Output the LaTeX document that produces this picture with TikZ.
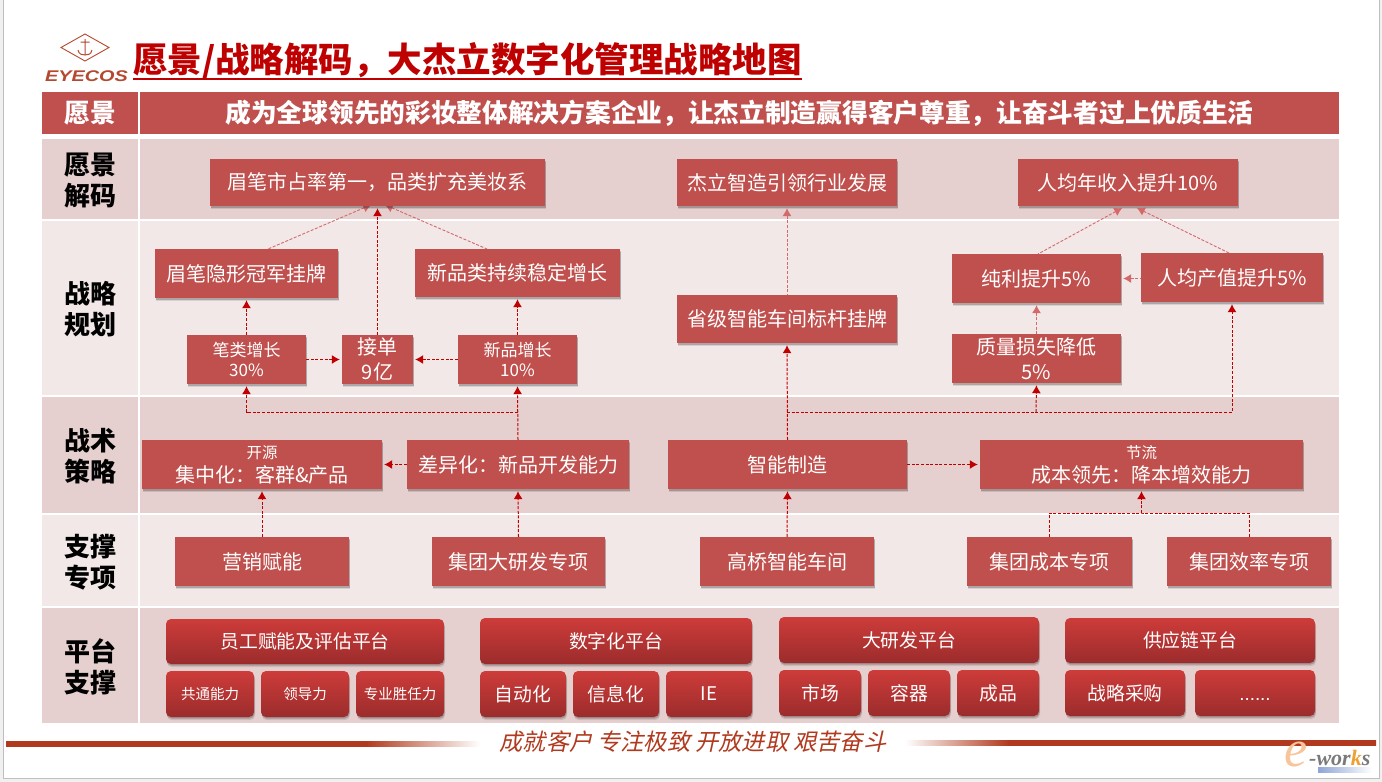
\documentclass[tikz,border=0pt]{standalone}
\usepackage{fontspec}
\setmainfont{Noto Sans CJK SC}
\newfontfamily\slantcjk[FakeSlant=0.22]{Noto Sans CJK SC}
\newfontfamily\latinsans{Liberation Sans}
\newfontfamily\latinserif{Liberation Serif}
\usetikzlibrary{arrows.meta,shadows,calc}
\definecolor{boxred}{HTML}{C0504D}
\definecolor{rowdark}{HTML}{E6CFCF}
\definecolor{rowlight}{HTML}{F2E8E8}
\definecolor{linkred}{HTML}{C00000}
\definecolor{linkpale}{HTML}{D4696A}
\definecolor{titlered}{HTML}{BE0000}
\definecolor{footred}{HTML}{B13A1E}
\definecolor{logobrown}{HTML}{B5492F}
\definecolor{gradtop}{HTML}{CD3C3A}
\definecolor{gradbot}{HTML}{9B2C2C}
\definecolor{eorange}{HTML}{F8C49A}
\definecolor{kaorange}{HTML}{F0A030}
\definecolor{worksgrey}{HTML}{7A7A7A}
\definecolor{barblue}{HTML}{8FA5D5}
\pgfdeclarehorizontalshading{fadeout}{100bp}{color(0bp)=(footred); color(63bp)=(footred); color(75bp)=(white); color(100bp)=(white)}
\pgfdeclarehorizontalshading{fadein}{100bp}{color(0bp)=(white); color(25bp)=(white); color(36bp)=(footred); color(100bp)=(footred)}
\tikzset{
  cellbase/.style={inner sep=0pt,align=center},
  headcell/.style={cellbase,fill=boxred,text=white,font=\fontsize{25.7}{31}\bfseries\selectfont},
  rowd/.style={cellbase,fill=rowdark},
  rowl/.style={cellbase,fill=rowlight},
  lab/.style={cellbase,font=\fontsize{26}{31}\bfseries\selectfont,text=black},
  softshadow/.style={
    drop shadow={shadow xshift=1pt,shadow yshift=-3.2pt,opacity=.10,fill=black},
    drop shadow={shadow xshift=.6pt,shadow yshift=-1.6pt,opacity=.20,fill=black}},
  rbox/.style={cellbase,fill=boxred,text=white,softshadow,font=\fontsize{20}{25}\selectfont},
  rboxs/.style={rbox,font=\fontsize{17}{20}\selectfont},
  plat/.style={cellbase,rounded corners=5pt,top color=gradtop,bottom color=gradbot,text=white,softshadow,font=\fontsize{18.8}{24}\selectfont},
  plats/.style={plat,font=\fontsize{14.5}{18}\selectfont},
  conn/.style={draw=linkred,line width=1pt,dash pattern=on 3pt off 1.6pt,-{Latex[length=8pt,width=9pt]},shorten >=2pt},
  connpale/.style={conn,draw=linkpale,line width=.9pt,{Latex[length=8pt,width=9pt]}-,shorten >=0pt,shorten <=2pt},
  connplain/.style={draw=linkred,line width=1pt,dash pattern=on 3pt off 1.6pt},
}
\newcommand{\bx}[7]{\node[#1,minimum width={(#5-#3)*1pt},minimum height={(#6-#4)*1pt}] (#2) at ({(#3+#5)/2},{(#4+#6)/2}) {#7};}
\begin{document}
\begin{tikzpicture}[x=1pt,y=-1pt]
\useasboundingbox (0,0) rectangle (1382,782);
\fill[black!6] (0,0) rectangle (1382,782);
\fill[white,draw=black!25,line width=1pt] (3.5,-3) rectangle (1379,778);

% logo
\draw[logobrown,line width=.9pt] (61,47.5)--(85,34)--(109,47.5)--(85,61)--cycle;
\draw[logobrown,line width=1pt] (85,39)--(85,55) (80.5,42)--(89.5,42) (78,50) .. controls (79,54.5) and (82,55) .. (85,55) .. controls (88,55) and (91,54.5) .. (92,50);
\node[inner sep=0pt,text=logobrown,xscale=1.28] (logotext) at (86.5,76) {\fontsize{15.5}{16}\latinsans\bfseries\itshape EYECOS};

% title
\node[anchor=west,inner sep=0pt,text=titlered,font=\fontsize{34.5}{40}\bfseries\selectfont] (title) at (133,61) {愿景/战略解码，大杰立数字化管理战略地图};
\draw[titlered,line width=2pt] (title.west |- 0,79) -- (title.east |- 0,79);

% rows
\bx{headcell}{h0}{42}{92}{138}{134}{愿景}
\bx{headcell}{h1}{140}{92}{1339}{134}{成为全球领先的彩妆整体解决方案企业，让杰立制造赢得客户尊重，让奋斗者过上优质生活}
\bx{rowd}{c1}{42}{139}{138}{219}{}
\bx{rowd}{r1}{140}{139}{1339}{219}{}
\bx{rowl}{c2}{42}{221}{138}{395}{}
\bx{rowl}{r2}{140}{221}{1339}{395}{}
\bx{rowd}{c3}{42}{397}{138}{513}{}
\bx{rowd}{r3}{140}{397}{1339}{513}{}
\bx{rowl}{c4}{42}{515}{138}{606}{}
\bx{rowl}{r4}{140}{515}{1339}{606}{}
\bx{rowd}{c5}{42}{608}{138}{723}{}
\bx{rowd}{r5}{140}{608}{1339}{723}{}
\node[lab] (l1) at ($(c1)+(0,1.5)$) {愿景\\解码};
\node[lab] (l2) at ($(c2)+(0,1)$) {战略\\规划};
\node[lab] (l3) at ($(c3)+(0,1)$) {战术\\策略};
\node[lab] (l4) at ($(c4)+(0,1.5)$) {支撑\\专项};
\node[lab] (l5) at ($(c5)+(0,1)$) {平台\\支撑};

% diagonal links whose heads run under the top box
\coordinate (d1a) at (268,249);  \coordinate (d1b) at (373,204);
\coordinate (d2a) at (487,249);  \coordinate (d2b) at (383,204);
\draw[connpale] (d1b) -- (d1a);
\draw[connpale] (d2b) -- (d2a);

% vision boxes
\bx{rbox}{v1}{210}{159}{545}{206}{眉笔市占率第一，品类扩充美妆系}
\bx{rbox}{v2}{677}{159}{897}{206}{杰立智造引领行业发展}
\bx{rbox}{v3}{1018}{159}{1238}{206}{人均年收入提升10\%}
% strategy boxes
\bx{rbox}{s1}{155}{249}{338}{298}{眉笔隐形冠军挂牌}
\bx{rbox}{s2}{415}{249}{620}{297}{新品类持续稳定增长}
\bx{rbox}{s3}{677}{295}{897}{343}{省级智能车间标杆挂牌}
\bx{rbox}{s4}{952}{254}{1121}{303}{纯利提升5\%}
\bx{rbox}{s5}{1141}{253}{1323}{302}{人均产值提升5\%}
\bx{rboxs}{s6}{187}{335}{306}{384}{笔类增长\\30\%}
\bx{rbox}{s7}{342}{335}{413}{384}{接单\\9亿}
\bx{rboxs}{s8}{458}{335}{577}{384}{新品增长\\10\%}
\bx{rbox}{s9}{952}{334}{1121}{383}{质量损失降低\\5\%}
% tactic boxes
\bx{rbox}{t1}{142}{440}{382}{489}{{\fontsize{15.5}{17}\selectfont 开源}\\[-1pt]集中化：客群\&产品}
\bx{rbox}{t2}{407}{440}{629}{489}{差异化：新品开发能力}
\bx{rbox}{t3}{668}{440}{907}{489}{智能制造}
\bx{rbox}{t4}{980}{440}{1303}{489}{{\fontsize{15.5}{17}\selectfont 节流}\\[-1pt]成本领先：降本增效能力}
% support boxes
\bx{rbox}{p1}{175}{537}{349}{586}{营销赋能}
\bx{rbox}{p2}{432}{537}{605}{586}{集团大研发专项}
\bx{rbox}{p3}{700}{537}{874}{586}{高桥智能车间}
\bx{rbox}{p4}{967}{537}{1132}{586}{集团成本专项}
\bx{rbox}{p5}{1167}{537}{1331}{586}{集团效率专项}
% platform boxes
\bx{plat}{f1}{166}{619}{444}{664}{员工赋能及评估平台}
\bx{plats}{f1a}{166}{671}{254}{717}{共通能力}
\bx{plats}{f1b}{261}{671}{349}{717}{领导力}
\bx{plats}{f1c}{356}{671}{444}{717}{专业胜任力}
\bx{plat}{f2}{480}{618}{752}{664}{数字化平台}
\bx{plat}{f2a}{480}{671}{566}{717}{自动化}
\bx{plat}{f2b}{573}{671}{659}{717}{信息化}
\bx{plat}{f2c}{666}{671}{752}{717}{IE}
\bx{plat}{f3}{779}{617}{1039}{663}{大研发平台}
\bx{plat}{f3a}{779}{670}{861}{716}{市场}
\bx{plat}{f3b}{868}{670}{950}{716}{容器}
\bx{plat}{f3c}{957}{670}{1039}{716}{成品}
\bx{plat}{f4}{1065}{618}{1315}{663}{供应链平台}
\bx{plat}{f4a}{1065}{670}{1185}{716}{战略采购}
\bx{plat}{f4b}{1195}{670}{1315}{716}{\vphantom{战}{\latinsans ......}}

% connector end points
\coordinate (d3a) at (1038,254); \coordinate (d3b) at (1124,207);
\coordinate (d4a) at (1229,253); \coordinate (d4b) at (1135,207);
\coordinate (j1) at (518,412);
\coordinate (j2) at (787,412);
\coordinate (j3) at (1036,412);
\coordinate (j4) at (1141.5,513);

% connectors: top row
\draw[conn] (s7.north) -- (v1.south);
\draw[connpale] (v2.south) -- (s3.north);
\draw[connpale] (d3b) -- (d3a);
\draw[connpale] (d4b) -- (d4a);
% connectors: strategy
\draw[conn] (s6.north) -- (s1.south);
\draw[conn] (s8.north) -- (s2.south);
\draw[conn] (s6.east) -- (s7.west);
\draw[conn] (s8.west) -- (s7.east);
\draw[connpale] (s4.south) -- (s9.north);
\draw[connpale] (s4.east) -- (s5.west |- s4.east);
% connectors: tactics to strategy
\draw[conn] (t2.north) -- (s8.south);
\draw[conn] (j1) -| (s6.south);
\draw[conn] (t3.north) -- (s3.south);
\draw[conn] (j2) -| (s5.south);
\draw[conn] (j3) -- (s9.south);
\draw[conn] (t2.west) -- (t1.east);
\draw[conn] (t3.east) -- (t4.west);
% connectors: support to tactics
\draw[conn] (p1.north) -- (t1.south);
\draw[conn] (p2.north) -- (t2.south);
\draw[conn] (p3.north) -- (t3.south);
\draw[connplain] (p4.north) |- (j4) -| (p5.north);
\draw[conn] (j4) -- (t4.south);

% footer
\shade[shading=fadeout,draw=none] (6,741) rectangle (480,746);
\shade[shading=fadein,draw=none] (905,740) rectangle (1376,745);
\node[inner sep=0pt,text=footred,font=\fontsize{23.2}{26}\slantcjk] (motto) at (693,742) {成就客户 专注极致 开放进取 艰苦奋斗};

% e-works mark
\shade[left color=barblue,right color=white,draw=none] (1318,767.5) rectangle (1372,772);
\node[inner sep=0pt,text=eorange,font=\fontsize{52}{52}\latinserif\itshape] (emark) at (1296,754) {e};
\node[anchor=west,inner sep=0pt,font=\fontsize{22}{22}\latinserif\bfseries\itshape,text=worksgrey] (works) at (1309,758) {-wor\textcolor{kaorange}{k}s};
\end{tikzpicture}
\end{document}
